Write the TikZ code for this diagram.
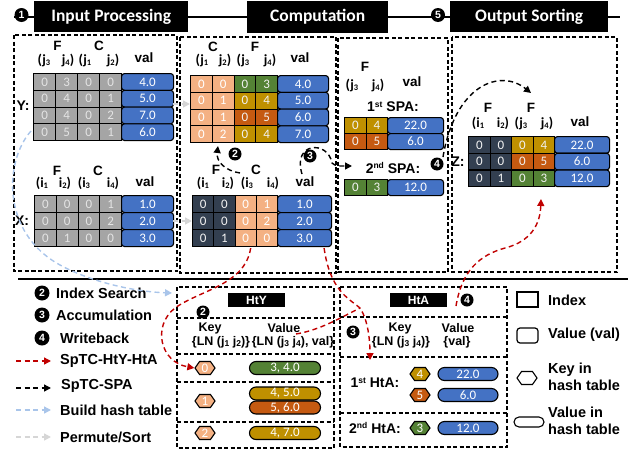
\documentclass[tikz,border=0pt]{standalone}
\usepackage{fontspec}
\setmainfont{Liberation Sans}
\newfontfamily\calfont{Carlito}
\usetikzlibrary{arrows.meta,shapes.symbols,shapes.misc,calc}

\definecolor{cgray}{HTML}{A5A5A5}
\definecolor{cgrayT}{HTML}{E4E4E4}
\definecolor{csal}{HTML}{F4B183}
\definecolor{csalT}{HTML}{FFFFFF}
\definecolor{cgrn}{HTML}{548235}
\definecolor{cgrnT}{HTML}{F2F2F2}
\definecolor{cgold}{HTML}{BF9000}
\definecolor{cgoldT}{HTML}{F2F2F2}
\definecolor{corg}{HTML}{C55A11}
\definecolor{corgT}{HTML}{F2F2F2}
\definecolor{cdark}{HTML}{333F50}
\definecolor{cdarkT}{HTML}{F2F2F2}
\definecolor{cblue}{HTML}{4472C4}
\definecolor{cred}{HTML}{C00000}
\definecolor{clblue}{HTML}{A9C5EA}
\definecolor{clgray}{HTML}{D6D6D6}

% small sub/superscripts for index labels
\newcommand\sbs[1]{\raisebox{-1.6pt}{\fontsize{8.5}{8.5}\selectfont #1}}
\newcommand\sps[1]{\raisebox{4.5pt}{\fontsize{8.5}{8.5}\selectfont #1}}

% one table row: name, x, y(top), column width, row height, {fill/digit,...}, val x, val width, val
\newcommand\cellrow[9]{%
  \foreach \cfill/\cdig [count=\k] in {#6}{%
    \node[idx, fill=\cfill, text=\cfill T, minimum width=#4, minimum height=#5, anchor=north west]
      (#1-\k) at ({#2+(\k-1)*#4},#3) {\cdig};
  }%
  \node[valcell, minimum width=#8, minimum height=#5, anchor=north west] (#1-v) at (#7,#3) {#9};
}

\tikzset{
  idx/.style={draw=black, line width=1.1pt, inner sep=0pt, font=\calfont\fontsize{13}{13}\selectfont},
  valcell/.style={draw=black, line width=1.1pt, fill=cblue, text=white, rounded corners=3pt,
    inner sep=0pt, font=\calfont\fontsize{13}{13}\selectfont},
  titlebox/.style={fill=black, text=white, inner sep=0pt, anchor=north west,
    font=\calfont\bfseries\fontsize{17.5}{17.5}\selectfont},
  hbox/.style={fill=black, text=white, inner sep=0pt, minimum width=57, minimum height=14,
    font=\bfseries\fontsize{12}{12}\selectfont},
  num/.style={circle, fill=black, text=white, inner sep=0pt, minimum size=13,
    font=\bfseries\fontsize{10.5}{10.5}\selectfont},
  panel/.style={draw=black, line width=1.3pt, dash pattern=on 4pt off 2.5pt},
  clbl/.style={inner sep=0pt, font=\bfseries\fontsize{13.5}{13.5}\selectfont},
  plbl/.style={inner sep=0pt, font=\calfont\bfseries\fontsize{14}{14}\selectfont},
  rowlbl/.style={inner sep=0pt, font=\bfseries\fontsize{14}{14}\selectfont},
  keylbl/.style={inner sep=0pt, font=\bfseries\fontsize{12.5}{12.5}\selectfont},
  leg/.style={inner sep=0pt, anchor=west, align=left, font=\bfseries\fontsize{14.5}{17}\selectfont},
  hexk/.style={shape=signal, signal to=east and west, signal pointer angle=110, draw=black,
    line width=1.1pt, minimum width=20, minimum height=13, inner sep=0pt, text=white,
    font=\calfont\fontsize{13}{13}\selectfont},
  pill/.style={rounded rectangle, draw=black, line width=1.1pt, minimum height=13, inner sep=0pt,
    text=white, font=\calfont\fontsize{13}{13}\selectfont},
  tip/.style={-{Triangle[length=7pt,width=7pt]}},
  redarr/.style={draw=cred, line width=1.4pt, dash pattern=on 5pt off 3.5pt, tip},
  blkarr/.style={draw=black, line width=1.4pt, dash pattern=on 5pt off 3.5pt, tip},
  bluearr/.style={draw=clblue, line width=1.4pt, dash pattern=on 5pt off 3.5pt, tip},
  grayarr/.style={draw=clgray, line width=1.4pt, dash pattern=on 5pt off 3.5pt, tip},
}

\begin{document}
\begin{tikzpicture}[x=1pt,y=-1pt]
\useasboundingbox (0,0) rectangle (632,450);

% ---------- stage headers ----------
\coordinate (hl) at (14,17);
\coordinate (hr) at (620,17);
\draw[line width=1.2pt] (hl) -- (hr);
\node[titlebox, minimum width=154, minimum height=31] (tin) at (34,1) {Input Processing};
\node[titlebox, minimum width=141, minimum height=32] (tcomp) at (247,1) {Computation};
\node[titlebox, minimum width=158, minimum height=31] (tout) at (450,1) {Output Sorting};
\node[num, minimum size=14] (n1) at (21.5,15) {1};
\node[num, minimum size=14] (n5) at (438,15) {5};

% ---------- panels ----------
\draw[panel] (14,35) rectangle (177,271);
\draw[panel] (180,37) rectangle (336,273);
\draw[panel] (338,38) rectangle (448,272);
\draw[panel] (452,37) rectangle (617,272);

% ---------- input processing: Y ----------
\node[clbl] (p1F) at (57.5,46) {F};
\node[clbl] (p1C) at (99,46) {C};
\node[plbl] (p1a) at (44,60) {(j\sbs3};
\node[plbl] (p1b) at (68,60) {j\sbs4)};
\node[plbl] (p1c) at (85,60) {(j\sbs1};
\node[plbl] (p1d) at (113,60) {j\sbs2)};
\node[clbl] (p1v) at (144,58) {val};
\cellrow{ya}{33}{73}{22}{16.75}{cgray/0,cgray/3,cgray/0,cgray/0}{121}{52}{4.0}
\cellrow{yb}{33}{89.75}{22}{16.75}{cgray/0,cgray/4,cgray/0,cgray/1}{121}{52}{5.0}
\cellrow{yc}{33}{106.5}{22}{16.75}{cgray/0,cgray/4,cgray/0,cgray/2}{121}{52}{7.0}
\cellrow{yd}{33}{123.25}{22}{16.75}{cgray/0,cgray/5,cgray/0,cgray/1}{121}{52}{6.0}
\node[rowlbl] (ylab) at (23,106) {Y:};

% ---------- input processing: X ----------
\node[clbl] (p1F2) at (57,171) {F};
\node[clbl] (p1C2) at (98,171) {C};
\node[plbl] (p1e) at (42,183) {(i\sbs1};
\node[plbl] (p1f) at (65,183) {i\sbs2)};
\node[plbl] (p1g) at (84,183) {(i\sbs3};
\node[plbl] (p1h) at (113,183) {i\sbs4)};
\node[clbl] (p1v2) at (145,182) {val};
\cellrow{xa}{34}{195}{21.75}{17}{cgray/0,cgray/0,cgray/0,cgray/1}{121}{52}{1.0}
\cellrow{xb}{34}{212}{21.75}{17}{cgray/0,cgray/0,cgray/0,cgray/2}{121}{52}{2.0}
\cellrow{xc}{34}{229}{21.75}{17}{cgray/0,cgray/1,cgray/0,cgray/0}{121}{52}{3.0}
\node[rowlbl] (xlab) at (22,221) {X:};

% ---------- computation: permuted Y ----------
\node[clbl] (p2C) at (213,47) {C};
\node[clbl] (p2F) at (255,47) {F};
\node[plbl] (p2a) at (202,60) {(j\sbs1};
\node[plbl] (p2b) at (225,60) {j\sbs2)};
\node[plbl] (p2c) at (243,60) {(j\sbs3};
\node[plbl] (p2d) at (270,60) {j\sbs4)};
\node[clbl] (p2v) at (300,58) {val};
\cellrow{ua}{190}{75}{21.75}{16.75}{csal/0,csal/0,cgrn/0,cgrn/3}{277}{51}{4.0}
\cellrow{ub}{190}{91.75}{21.75}{16.75}{csal/0,csal/1,cgold/0,cgold/4}{277}{51}{5.0}
\cellrow{uc}{190}{108.5}{21.75}{16.75}{csal/0,csal/1,corg/0,corg/5}{277}{51}{6.0}
\cellrow{ud}{190}{125.25}{21.75}{16.75}{csal/0,csal/2,cgold/0,cgold/4}{277}{51}{7.0}

% ---------- computation: X ----------
\node[clbl] (p2F2) at (216,170) {F};
\node[clbl] (p2C2) at (256,170) {C};
\node[plbl] (p2e) at (203,183) {(i\sbs1};
\node[plbl] (p2f) at (228,183) {i\sbs2)};
\node[plbl] (p2g) at (247,183) {(i\sbs3};
\node[plbl] (p2h) at (273,183) {i\sbs4)};
\node[clbl] (p2v2) at (305,182) {val};
\cellrow{la}{192}{195}{21.25}{17}{cdark/0,cdark/0,csal/0,csal/1}{277}{54}{1.0}
\cellrow{lb}{192}{212}{21.25}{17}{cdark/0,cdark/0,csal/0,csal/2}{277}{54}{2.0}
\cellrow{lc}{192}{229}{21.25}{17}{cdark/0,cdark/1,csal/0,csal/0}{277}{54}{3.0}
\node[num] (c2) at (235,154) {2};
\node[num] (c3) at (310,156) {3};

% ---------- SPA ----------
\node[clbl] (p3F) at (365,67) {F};
\node[plbl] (p3a) at (352,85) {(j\sbs3};
\node[plbl] (p3b) at (378,85) {j\sbs4)};
\node[clbl] (p3v) at (412,82) {val};
\node[rowlbl] (spa1) at (393,107) {1\sps{st} SPA:};
\cellrow{sa}{344}{117}{21.5}{16}{cgold/0,cgold/4}{387}{56}{22.0}
\cellrow{sb}{344}{133}{21.5}{16}{corg/0,corg/5}{387}{56}{6.0}
\node[rowlbl] (spa2) at (393,168) {2\sps{nd} SPA:};
\cellrow{sc}{344}{179}{21.5}{16}{cgrn/0,cgrn/3}{387}{56}{12.0}
\node[num] (c4) at (437,164) {4};

% ---------- output Z ----------
\node[clbl] (p4F) at (488,108) {F};
\node[clbl] (p4F2) at (531,108) {F};
\node[plbl] (p4a) at (478,123) {(i\sbs1};
\node[plbl] (p4b) at (503,123) {i\sbs2)};
\node[plbl] (p4c) at (521,123) {(j\sbs3};
\node[plbl] (p4d) at (547,123) {j\sbs4)};
\node[clbl] (p4v) at (580,122) {val};
\cellrow{za}{468}{136}{21.5}{16.7}{cdark/0,cdark/0,cgold/0,cgold/4}{554}{55}{22.0}
\cellrow{zb}{468}{152.7}{21.5}{16.7}{cdark/0,cdark/0,corg/0,corg/5}{554}{55}{6.0}
\cellrow{zc}{468}{169.4}{21.5}{16.7}{cdark/0,cdark/1,cgrn/0,cgrn/3}{554}{55}{12.0}
\node[rowlbl] (zlab) at (458,162) {Z:};

% ---------- separator ----------
\coordinate (sl) at (18,279);
\coordinate (sr) at (628,279);
\draw[line width=1.5pt] (sl) -- (sr);

% ---------- legend (left) ----------
\node[num, minimum size=15] (lg2) at (42,293) {2};
\node[leg] (lg2t) at (56,293) {Index Search};
\node[num, minimum size=15] (lg3) at (42,315) {3};
\node[leg] (lg3t) at (56,315) {Accumulation};
\node[num, minimum size=15] (lg4) at (42,338) {4};
\node[leg] (lg4t) at (60,338) {Writeback};
\coordinate (lr1) at (16,361); \coordinate (lr2) at (51,361);
\draw[redarr] (lr1) -- (lr2);
\node[leg] (lrt) at (60,361) {SpTC-HtY-HtA};
\coordinate (lk1) at (16,388); \coordinate (lk2) at (51,388);
\draw[blkarr] (lk1) -- (lk2);
\node[leg] (lkt) at (61,386) {SpTC-SPA};
\coordinate (lb1) at (16,410); \coordinate (lb2) at (51,410);
\draw[bluearr] (lb1) -- (lb2);
\node[leg] (lbt) at (60,410) {Build hash table};
\coordinate (lg1) at (16,437); \coordinate (lgg) at (51,437);
\draw[grayarr] (lg1) -- (lgg);
\node[leg] (lgt) at (60,437) {Permute/Sort};

% ---------- HtY ----------
\draw[panel] (177,287) rectangle (334,448);
\node[hbox] (hty) at (256.5,300) {HtY};
\node[num] (hy2) at (203,312) {2};
\draw[panel] (177,318) -- (334,318);
\draw[panel] (177,354) -- (334,354);
\draw[panel] (177,382) -- (334,382);
\draw[panel] (177,422) -- (334,422);
\node[keylbl] (hyk) at (210,328) {Key};
\node[keylbl] (hyk2) at (221,342) {\{LN (j\sbs1 j\sbs2)\}};
\node[keylbl] (hyv) at (284,328) {Value};
\node[keylbl] (hyv2) at (293,342) {\{LN (j\sbs3 j\sbs4), val\}};
\node[hexk, fill=csal] (h0) at (205,368) {0};
\node[pill, fill=cgrn, minimum width=71] (p0) at (285,368) {3, 4.0};
\node[hexk, fill=csal] (h1) at (205,401) {1};
\node[pill, fill=cgold, minimum width=71] (p1a) at (285,393.5) {4, 5.0};
\node[pill, fill=corg, minimum width=71] (p1b) at (285,407.5) {5, 6.0};
\node[hexk, fill=csal] (h2) at (205,433) {2};
\node[pill, fill=cgold, minimum width=71] (p2) at (285,433) {4, 7.0};

% ---------- HtA ----------
\draw[panel] (340,287) rectangle (507,447);
\node[hbox] (hta) at (418.5,300) {HtA};
\node[num] (ha4) at (467,300) {4};
\draw[panel] (340,317) -- (507,317);
\node[num] (ha3) at (353,332) {3};
\node[keylbl] (hak) at (400,328) {Key};
\node[keylbl] (hak2) at (401,342) {\{LN (j\sbs3 j\sbs4)\}};
\node[keylbl] (hav) at (458,328) {Value};
\node[keylbl] (hav2) at (457,342) {\{val\}};
\draw[panel] (340,357) -- (507,357);
\node[rowlbl] (hta1) at (375,383) {1\sps{st} HtA:};
\node[hexk, fill=cgold] (hk4) at (420,374) {4};
\node[pill, fill=cblue, minimum width=60] (hp4) at (468,374) {22.0};
\node[hexk, fill=corg] (hk5) at (420,395) {5};
\node[pill, fill=cblue, minimum width=60] (hp5) at (468,395) {6.0};
\draw[panel] (340,413) -- (507,413);
\node[rowlbl] (hta2) at (375,428) {2\sps{nd} HtA:};
\node[hexk, fill=cgrn] (hk3) at (420,428) {3};
\node[pill, fill=cblue, minimum width=60] (hp3) at (468,428) {12.0};

% ---------- legend (right) ----------
\node[draw=black, line width=1.2pt, minimum width=21, minimum height=15, inner sep=0pt] (lgi) at (527.5,299.5) {};
\node[leg] (lgit) at (548,300) {Index};
\node[draw=black, line width=1.2pt, minimum width=21, minimum height=15, rounded corners=3pt, inner sep=0pt] (lgv) at (527.5,335.5) {};
\node[leg] (lgvt) at (548,335) {Value (val)};
\node[hexk, fill=white] (lgk) at (527,378) {};
\node[leg] (lgkt) at (548,377) {Key in\\hash table};
\node[pill, fill=white, minimum width=30, minimum height=10] (lgp) at (529,422) {};
\node[leg] (lgpt) at (548,421) {Value in\\hash table};

% ---------- connectors ----------
% permute/sort
\coordinate (gs1) at (173,104);
\coordinate (gs2) at (173,221);
\draw[grayarr] (gs1) -- (gs1 -| ub-1.west);
\draw[grayarr] (gs2) -- (gs2 -| lb-1.west);
% build hash table
\coordinate (bh) at (31,131);
\coordinate (bt) at (172,293);
\draw[bluearr] (bh) .. controls (5,160) and (0,232) .. (60,265) .. controls (95,284) and (140,292) .. (bt);
% index search inside computation
\coordinate (s2a) at (240,173);
\coordinate (s2b) at (218,146);
\draw[blkarr] (s2a) .. controls (226,171) and (216,162) .. (s2b);
% accumulation into SPA
\coordinate (s3a) at (302,174);
\coordinate (s3b) at (352,166);
\draw[blkarr] (s3a) .. controls (292,142) and (328,140) .. (332,163) .. controls (336,166) .. (s3b);
% writeback from SPA
\coordinate (s4a) at (443,157);
\coordinate (s4b) at (531,93);
\draw[blkarr] (s4a) .. controls (455,85) and (500,68) .. (s4b);
% hash-table path
\coordinate (r1a) at ($(lc-3.south)+(5,1)$);
\draw[redarr] (r1a) .. controls (245,285) and (200,290) .. (175,308) .. controls (152,326) and (160,362) .. (h0.west);
\coordinate (r2a) at ($(lc-v.south east)+(-8,1)$);
\coordinate (r2m) at (360,308);
\coordinate (r2b) at (370,360);
\draw[redarr] (r2a) .. controls (330,290) and (348,298) .. (r2m) .. controls (368,320) and (370,340) .. (r2b);
\coordinate (r2c) at (296,334);
\draw[redarr, -] (r2c) .. controls (320,330) and (340,318) .. (r2m);
\coordinate (r3a) at (456,306);
\coordinate (r3b) at (541,199);
\draw[redarr] (r3a) .. controls (462,270) and (480,255) .. (505,248) .. controls (525,243) and (540,230) .. (r3b);
\end{tikzpicture}
\end{document}
